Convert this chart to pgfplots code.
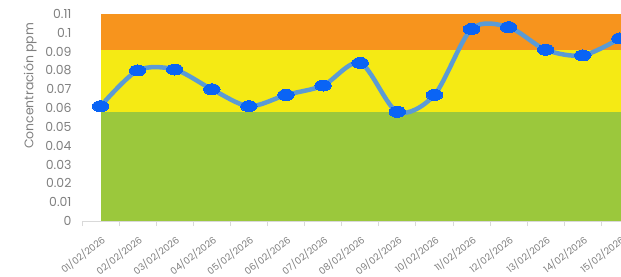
\documentclass[border=0pt]{standalone}
\usepackage{pgfplots}
\pgfplotsset{compat=1.18}
\usepackage{fontspec}
\setmainfont{Poppins}
\definecolor{bgreen}{HTML}{9BC83C}
\definecolor{byellow}{HTML}{F5EA14}
\definecolor{borange}{HTML}{F7941D}
\definecolor{lineblue}{HTML}{5B9BD5}
\definecolor{markblue}{HTML}{0A64F5}
\definecolor{txtgray}{HTML}{7F7F7F}
\begin{document}
\begin{tikzpicture}
\begin{axis}[
  at={(0,0)}, anchor=south west,
  scale only axis,
  width=539bp, height=207bp,
  xmin=-0.5, xmax=14.03,
  ymin=0, ymax=0.11,
  axis y line*=left,
  axis x line*=bottom,
  y axis line style={draw=none},
  x axis line style={draw=black!15, line width=0.8pt, -},
  xtick={0,...,14},
  xticklabels={01/02/2026,02/02/2026,03/02/2026,04/02/2026,05/02/2026,06/02/2026,07/02/2026,08/02/2026,09/02/2026,10/02/2026,11/02/2026,12/02/2026,13/02/2026,14/02/2026,15/02/2026},
  ytick={0,0.01,...,0.115},
  yticklabels={0,0.01,0.02,0.03,0.04,0.05,0.06,0.07,0.08,0.09,0.1,0.11},
  major tick length=0pt,
  minor xtick={-0.5,0.5,...,13.5},
  minor tick length=5bp,
  tick align=outside,
  minor tick style={draw=black!15, line width=0.8pt},
  xticklabel style={rotate=38, anchor=north east, font=\fontsize{9.5}{10}\selectfont, text=txtgray, yshift=-7bp, xshift=-5bp},
  yticklabel style={font=\fontsize{12.5}{13}\selectfont, text=txtgray, xshift=-7bp},
  /pgf/number format/assume math mode=true,
  clip=true,
]
\addplot[draw=none, fill=borange] coordinates {(0,0.11) (14.5,0.11)} \closedcycle;
\addplot[draw=none, fill=byellow] coordinates {(0,0.091) (14.5,0.091)} \closedcycle;
\addplot[draw=none, fill=bgreen] coordinates {(0,0.058) (14.5,0.058)} \closedcycle;
\addplot[lineblue, line width=4.5bp, smooth, tension=0.5, mark=*, mark size=5.5bp,
  mark options={draw=markblue, fill=markblue, xscale=1.5, line width=0pt}] coordinates {
  (0,0.061) (1,0.080) (2,0.0805) (3,0.070) (4,0.061) (5,0.067) (6,0.072) (7,0.084)
  (8,0.058) (9,0.067) (10,0.102) (11,0.103) (12,0.091) (13,0.088) (14,0.097)};
\end{axis}
\node[rotate=90, text=txtgray, font=\fontsize{12.5}{13}\selectfont] at (-52bp,135bp) {Concentración ppm};
\pgfresetboundingbox
\path[use as bounding box] (-82bp,-56bp) rectangle (539bp,221bp);
\end{tikzpicture}
\end{document}
